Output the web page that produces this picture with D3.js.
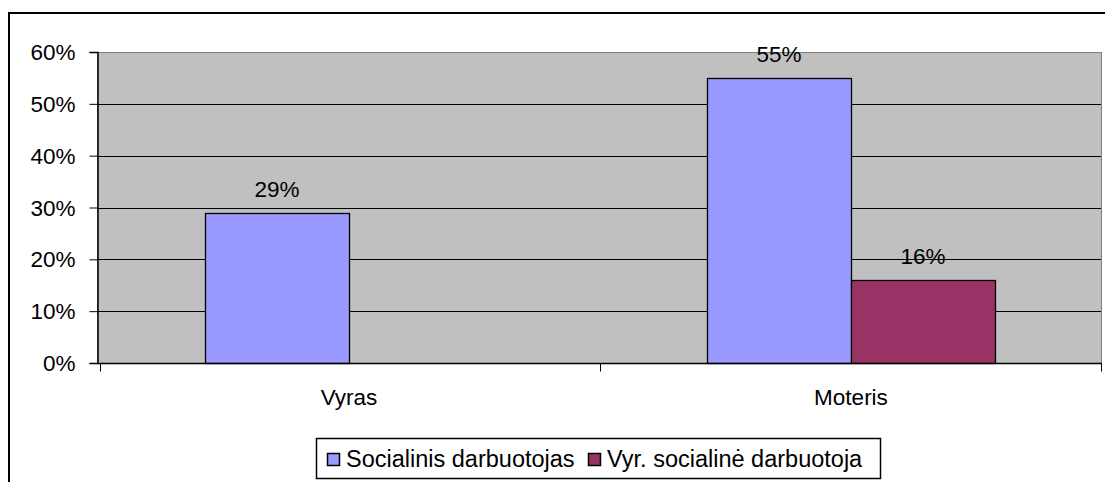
<!DOCTYPE html>
<html>
<head>
<meta charset="utf-8">
<script src="https://cdn.jsdelivr.net/npm/d3@7"></script>
<style>
  body { margin: 0; background: #fff; }
  svg text { font-family: "Liberation Sans", Arial, sans-serif; fill: #000; }
</style>
</head>
<body>
<svg id="chart" width="1105" height="482"></svg>
<script>
// data
const categories = ["Vyras", "Moteris"];
const seriesNames = ["Socialinis darbuotojas", "Vyr. socialinė darbuotoja"];
const socialinis = [0.29, 0.55];
const vyrSocialine = [null, 0.16];
const yTicks = [0, 0.1, 0.2, 0.3, 0.4, 0.5, 0.6];
const colors = ["#9999FF", "#993366"];

let svg = d3.select("#chart");
const plot = { left: 97, top: 52, right: 1101, bottom: 363 };
const labelSize = "22.5px";

// outer chart frame (clipped by the window at right and bottom)
svg.append("rect")
    .attr("x", 9).attr("y", 13)
    .attr("width", 1200).attr("height", 600)
    .attr("fill", "none")
    .attr("stroke", "#000")
    .attr("stroke-width", 2);

let x0 = d3.scaleBand().domain(categories).range([98, 1102]).paddingInner(0).paddingOuter(0);
let x1 = d3.scaleBand().domain(seriesNames).range([0, x0.bandwidth()]).paddingInner(0).paddingOuter(0.743);
let y = d3.scaleLinear().domain([0, 0.6]).range([plot.bottom, plot.top]);

// plot background
svg.append("rect")
    .attr("x", plot.left + 0.5).attr("y", plot.top + 0.5)
    .attr("width", plot.right - plot.left).attr("height", plot.bottom - plot.top)
    .attr("fill", "#C0C0C0")
    .attr("stroke", "#808080")
    .attr("stroke-width", 1);

// gridlines
svg.append("g").selectAll("line")
    .data(yTicks.filter(d => d > 0 && d < 0.6))
    .join("line")
    .attr("x1", plot.left).attr("x2", plot.right)
    .attr("y1", d => Math.round(y(d)) + 0.5).attr("y2", d => Math.round(y(d)) + 0.5)
    .attr("stroke", "#000")
    .attr("stroke-width", 1);

// bars
const series = [socialinis, vyrSocialine];
series.forEach((vals, s) => {
    let g = svg.append("g");
    categories.forEach((c, i) => {
        let v = vals[i];
        if (v == null) return;
        let bx = x0(c) + x1(seriesNames[s]);
        g.append("rect")
            .attr("x", Math.round(bx) + 0.5)
            .attr("y", Math.round(y(v)) + 0.5)
            .attr("width", Math.round(x1.bandwidth()))
            .attr("height", Math.round(y(0)) - Math.round(y(v)))
            .attr("fill", colors[s])
            .attr("stroke", "#000")
            .attr("stroke-width", 1.3);
        g.append("text")
            .attr("x", bx + x1.bandwidth() / 2)
            .attr("y", y(v) - 16)
            .attr("text-anchor", "middle")
            .style("font-size", labelSize)
            .text(Math.round(v * 100) + "%");
    });
});

// y axis
let yAxis = svg.append("g")
    .attr("transform", "translate(" + (plot.left + 0.5) + ",0)")
    .call(d3.axisLeft(y).tickValues(yTicks).tickFormat(d3.format(".0%")).tickSizeOuter(0).tickSize(8).tickPadding(14));
yAxis.select(".domain").attr("stroke", "#000").attr("stroke-width", 1.5);
yAxis.selectAll("text").style("font-size", labelSize).attr("dy", "0.34em");

// x axis
let xAxis = svg.append("g")
    .attr("transform", "translate(0," + (plot.bottom + 0.5) + ")");
xAxis.append("line")
    .attr("x1", plot.left).attr("x2", plot.right + 1)
    .attr("stroke", "#000").attr("stroke-width", 1.5);
let xTickPos = [x0.range()[0] + 2, x0(categories[1]), x0.range()[1] - 1];
xAxis.selectAll("line.tick")
    .data(xTickPos)
    .join("line")
    .attr("class", "tick")
    .attr("x1", d => Math.round(d) + 0.5).attr("x2", d => Math.round(d) + 0.5)
    .attr("y1", 0).attr("y2", 8)
    .attr("stroke", "#000");
xAxis.selectAll("text")
    .data(categories)
    .join("text")
    .attr("x", d => x0(d) + x0.bandwidth() / 2)
    .attr("y", 41)
    .attr("text-anchor", "middle")
    .style("font-size", labelSize)
    .text(d => d);

// legend
let legend = svg.append("g");
legend.append("rect")
    .attr("x", 316.5).attr("y", 438.5)
    .attr("width", 564).attr("height", 40)
    .attr("fill", "#fff")
    .attr("stroke", "#000")
    .attr("stroke-width", 1.5);
const legendX = [327, 588];
seriesNames.forEach((name, i) => {
    legend.append("rect")
        .attr("x", legendX[i] + 0.5).attr("y", 453.5)
        .attr("width", 12).attr("height", 12)
        .attr("fill", colors[i])
        .attr("stroke", "#000")
        .attr("stroke-width", 1.5);
    legend.append("text")
        .attr("x", legendX[i] + 19)
        .attr("y", 467)
        .style("font-size", "23.5px")
        .text(name);
});
</script>
</body>
</html>
